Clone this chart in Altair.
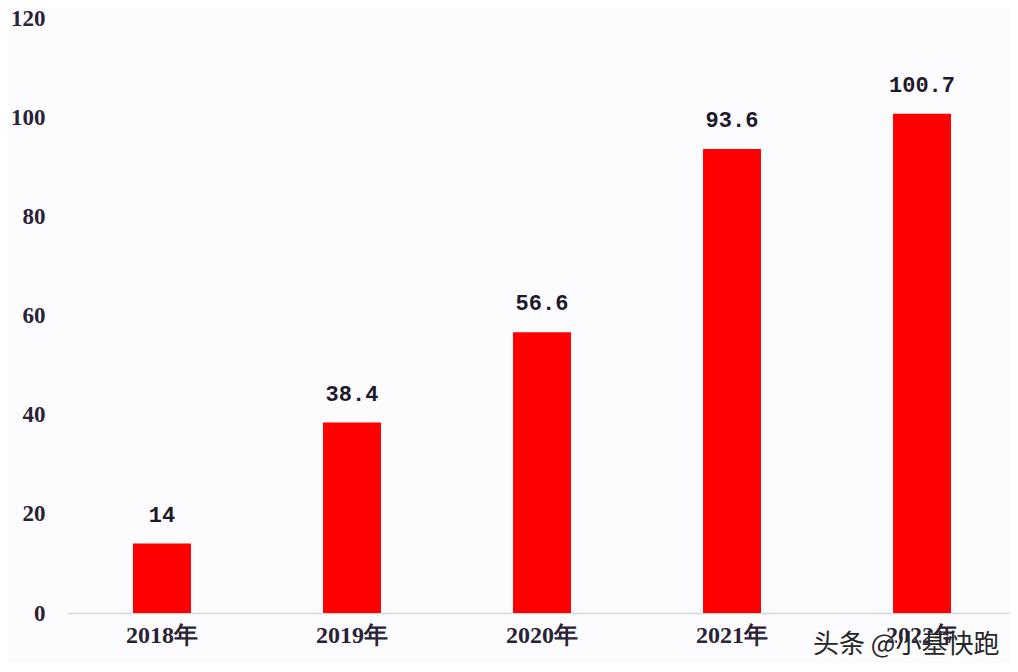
import altair as alt
import pandas as pd

years = ["2018年", "2019年", "2020年", "2021年", "2022年"]
values = [14, 38.4, 56.6, 93.6, 100.7]
labels = ["14", "38.4", "56.6", "93.6", "100.7"]

df = pd.DataFrame({"year": years, "value": values, "label": labels})

x = alt.X("year:N", sort=years, title=None,
          scale=alt.Scale(paddingInner=0.695, paddingOuter=0.329, align=0.528),
          axis=alt.Axis(labelAngle=0, labelFont="Liberation Serif", labelFontSize=24,
                        labelFontWeight="bold", labelColor="#2a2236", labelPadding=10,
                        ticks=False, domainColor="#d4d6dc", domainWidth=1.5))
y = alt.Y("value:Q", title=None,
          scale=alt.Scale(domain=[0, 120]),
          axis=alt.Axis(values=[0, 20, 40, 60, 80, 100, 120], grid=False, domain=False,
                        ticks=False, labelFont="Liberation Serif", labelFontSize=23,
                        labelFontWeight="bold", labelColor="#2a2236", labelPadding=22))

bars = alt.Chart(df).mark_bar(color="#ff0000").encode(x=x, y=y)

text = alt.Chart(df).mark_text(font="Liberation Mono", fontSize=22, fontWeight="bold",
                               color="#1e1a2a", baseline="bottom", dy=-17).encode(
    x=alt.X("year:N", sort=years), y="value:Q", text="label:N")

wm_shadow = alt.Chart(pd.DataFrame({"t": ["头条 @小基快跑"]})).mark_text(
    font="Noto Sans CJK SC", fontSize=26, color="#ffffff", align="left",
    baseline="middle").encode(
    x=alt.value(748), y=alt.value(629), text="t:N")

wm = alt.Chart(pd.DataFrame({"t": ["头条 @小基快跑"]})).mark_text(
    font="Noto Sans CJK SC", fontSize=26, color="#262626", align="left",
    baseline="middle").encode(
    x=alt.value(746), y=alt.value(627), text="t:N")

chart = alt.layer(bars, text, wm_shadow, wm).properties(
    width=943, height=595,
    autosize=alt.AutoSizeParams(type="none"),
    padding={"left": 59, "top": 10, "right": 0, "bottom": 50},
    background="#fcfcfe",
).configure_view(stroke=None)

chart.save("out.html", embed_options={"renderer": "svg", "actions": False})
